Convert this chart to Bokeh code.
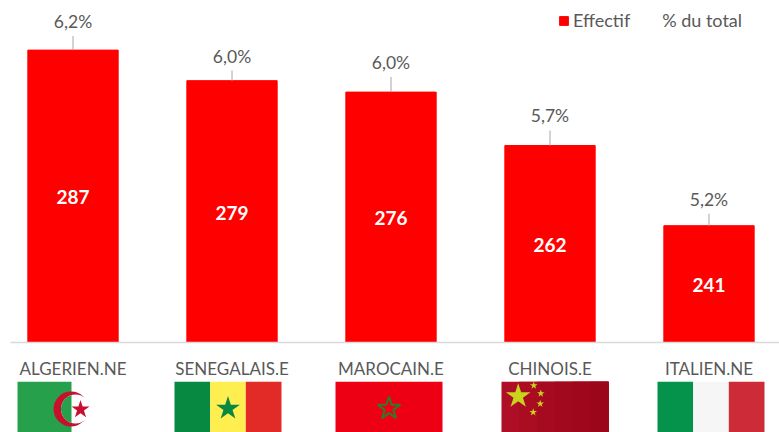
import numpy as np
from bokeh.plotting import figure
from bokeh.embed import file_html
from bokeh.resources import INLINE
from bokeh.layouts import column
from bokeh.models import ColumnDataSource, FixedTicker, Legend, LegendItem
from bokeh.core.properties import value

categories = ["ALGERIEN.NE", "SENEGALAIS.E", "MAROCAIN.E", "CHINOIS.E", "ITALIEN.NE"]
effectif = [287, 279, 276, 262, 241]
pourcent = ["6,2%", "6,0%", "6,0%", "5,7%", "5,2%"]
leader_units = [3.7, 2.65, 3.95, 3.95, 3.15]

FONT = "Lato"
idx = list(range(len(categories)))
src = ColumnDataSource(dict(
    x=idx, top=effectif, label=[str(v) for v in effectif], pct=pourcent,
    mid=[(v + 210.4) / 2 for v in effectif],
    lead=[v + u for v, u in zip(effectif, leader_units)],
))

p = figure(width=779, height=381, output_backend="svg", toolbar_location=None,
           x_range=(-0.3931, 4.4434), y_range=(210.4, 300.0),
           min_border_left=10, min_border_right=0, min_border_top=0, min_border_bottom=36,
           outline_line_color=None, background_fill_color="white")
p.grid.visible = False
p.yaxis.visible = False
ax = p.xaxis[0]
ax.ticker = FixedTicker(ticks=idx)
ax.major_label_overrides = {i: c for i, c in zip(idx, categories)}
ax.major_tick_line_color = None
ax.minor_tick_line_color = None
ax.axis_line_color = "#D9D9D9"
ax.axis_line_width = 1.5
ax.major_label_text_font = FONT
ax.major_label_text_font_size = "17px"
ax.major_label_text_color = "#595959"
ax.major_label_standoff = 9

bars = p.vbar(x="x", top="top", bottom=210.4, width=0.568, color="#FF0000", source=src)
p.segment(x0="x", x1="x", y0="top", y1="lead", line_color="#A6A6A6", line_width=1, source=src)
ghost = p.scatter(x="x", y="top", size=1, fill_alpha=0, line_alpha=0, source=src)
p.text(x="x", y="mid", text="label", text_align="center", text_baseline="middle", y_offset=1,
       text_color="white", text_font=value(FONT), text_font_style="bold", text_font_size="19px", source=src)
p.text(x="x", y="lead", text="pct", text_align="center", text_baseline="bottom", y_offset=-4,
       text_color="#595959", text_font=value(FONT), text_font_size="17.5px", source=src)

legend = Legend(items=[LegendItem(label="Effectif", renderers=[bars]),
                       LegendItem(label="% du total", renderers=[ghost])],
                orientation="horizontal", location=(548, 311),
                glyph_width=11, glyph_height=11, label_standoff=4, spacing=17,
                border_line_color=None, background_fill_alpha=0, padding=0, margin=0,
                label_text_font=FONT, label_text_font_size="18px", label_text_color="#595959")
p.add_layout(legend, "center")

fx = [71, 227.5, 388.5, 554.5, 710.5]
q = figure(width=779, height=51, output_backend="svg", toolbar_location=None,
           x_range=(10, 779), y_range=(432, 381), min_border=0, min_border_left=10,
           outline_line_color=None, background_fill_color="white")
q.axis.visible = False
q.grid.visible = False
T, B = 381, 432
def rect(x0, x1, c):
    q.quad(left=x0, right=x1, top=T, bottom=B, color=c, line_color=None)
def star(x, y, d, c, **k):
    q.scatter(x=[x], y=[y], marker="star", size=d, fill_color=c, line_color=k.get("lc", None), line_width=k.get("lw", 1))

# Algeria
rect(fx[0] - 54, fx[0], "#27A04C")
q.circle(x=[70.5], y=[408.5], radius=17.5, color="#C8102E", line_color=None)
q.circle(x=[75], y=[408.5], radius=14.5, color="white", line_color=None)
a = np.arccos((fx[0] - 75) / 14.5)
th = np.linspace(a, 2 * np.pi - a, 40)
q.patch(x=75 + 14.5 * np.cos(th), y=408.5 + 14.5 * np.sin(th), color="#27A04C", line_color=None)
star(80, 409, 19, "#C8102E")
# Senegal
c = fx[1]
rect(c - 53.5, c - 17.8, "#078942"); rect(c - 17.8, c + 17.8, "#FFEE50"); rect(c + 17.8, c + 53.5, "#E22B26")
star(c, 408, 25, "#078942")
# Morocco
c = fx[2]
rect(c - 53.5, c + 53.5, "#EE0014")
star(c, 408, 24, "#EE0014", lc="#2C7A2C", lw=2)
# China
c = fx[3]
for k, col in enumerate(["#AE0E26", "#AA0C22", "#A60A20", "#A2081E", "#9E071C", "#9C061B"]):
    rect(c - 53.5 + k * 107 / 6, c + 53.5, col)
star(517.7, 395.7, 26, "#C9D41C")
for sx, sy in [(533.3, 385), (540.3, 393), (539.7, 403.3), (532.7, 411.7)]:
    star(sx, sy, 8, "#C9D41C")
# Italy
c = fx[4]
rect(c - 53.5, c - 17.8, "#05924A"); rect(c - 17.8, c + 17.8, "#F6F6F6"); rect(c + 17.8, c + 53.5, "#CD2B37")

layout = column(p, q, spacing=0)
open("out.html", "w").write(file_html(layout, INLINE))
